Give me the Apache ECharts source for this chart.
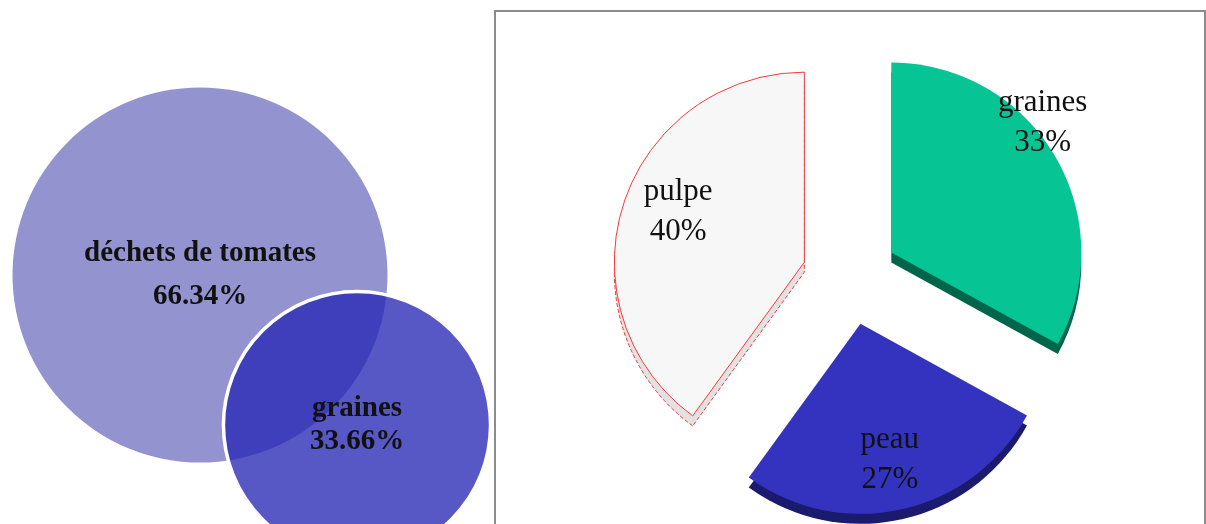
<!DOCTYPE html>
<html>
<head>
  <meta charset="utf-8">
  <title>déchets de tomates</title>
  <style>
    html, body { margin: 0; padding: 0; background: #fff; }
    #main { width: 1206px; height: 524px; }
  </style>
</head>
<body>
<div id="main"></div>
<script src="https://cdn.jsdelivr.net/npm/echarts@6/dist/echarts.min.js"></script>
<script>
var myEcharts = echarts.init(document.getElementById("main"));

// cercles de gauche : part des graines dans les déchets
var vennNames = ["déchets de tomates", "graines"];
var vennValues = [66.34, 33.66];

// camembert de droite : composition des déchets
var partNames = ["graines", "peau", "pulpe"];
var partValues = [33, 27, 40];

var serif = "Liberation Serif";

// rayon proportionnel à la racine de la valeur (aire ~ valeur)
function vennRadius(v) {
  return 187.5 * Math.sqrt(v / vennValues[0]);
}

var topColors = ["#06c494", "#3333c0", "#f7f7f7"];
var sideColors = ["#00654a", "#1b1b6e", "#e2e2e2"];
// réglage des étiquettes : lignes vides (haut, bas) et marge gauche/droite
var labelTune = [
  { before: 0, after: 4, padding: [0, 0, 0, 134] },
  { before: 2, after: 0, padding: [0, 0, 0, 16] },
  { before: 0, after: 1, padding: [0, 66, 0, 0] }
];

function blank(n) {
  var s = "";
  for (var k = 0; k < n; k++) s += "\n";
  return s;
}

function partData(colors, isSide) {
  var res = [];
  for (var i = 0; i < partNames.length; i++) {
    var item = {
      name: partNames[i],
      value: partValues[i],
      selected: true,
      itemStyle: { color: colors[i] },
      select: { itemStyle: { color: colors[i] } }
    };
    if (partNames[i] == "pulpe") {
      item.itemStyle.borderColor = "#f03c3c";
      item.itemStyle.borderWidth = 1;
      if (isSide) item.itemStyle.borderType = "dashed";
      item.select.itemStyle.borderColor = "#f03c3c";
    }
    if (!isSide) {
      var t = labelTune[i];
      item.label = {
        formatter: blank(t.before) + "{b}\n{d}%" + blank(t.after),
        padding: t.padding
      };
    }
    res.push(item);
  }
  return res;
}

myEcharts.setOption({
  animation: false,
  backgroundColor: "#fff",
  graphic: [{
    type: "rect",
    shape: { x: 495, y: 11, width: 710, height: 540 },
    style: { fill: null, stroke: "#8c8c8c", lineWidth: 2 },
    silent: true
  }],
  series: [{
    name: vennNames[0],
    type: "pie",
    center: [200, 275],
    radius: vennRadius(vennValues[0]),
    silent: true,
    label: {
      position: "center",
      formatter: "{b}\n{c}%",
      fontFamily: serif,
      fontWeight: "bold",
      fontSize: 29,
      lineHeight: 43,
      color: "#111",
      padding: [14, 0, 0, 0]
    },
    labelLine: { show: false },
    itemStyle: { color: "#9393d0" },
    data: [{ name: vennNames[0], value: vennValues[0] }]
  }, {
    name: vennNames[1],
    type: "pie",
    center: [357, 425],
    radius: vennRadius(vennValues[1]),
    silent: true,
    label: {
      position: "center",
      formatter: "{b}\n{c}%",
      fontFamily: serif,
      fontWeight: "bold",
      fontSize: 29,
      lineHeight: 33,
      color: "#111",
      padding: [0, 0, 20, 0]
    },
    labelLine: { show: false },
    itemStyle: { color: "rgba(40,40,182,0.78)", borderColor: "#fff", borderWidth: 3.5 },
    data: [{ name: vennNames[1], value: vennValues[1] }]
  }, {
    // épaisseur (effet 3D)
    name: "side",
    type: "pie",
    center: [850, 287],
    radius: 190,
    silent: true,
    selectedMode: "multiple",
    selectedOffset: 48,
    label: { show: false },
    labelLine: { show: false },
    data: partData(sideColors, true)
  }, {
    name: "parts",
    type: "pie",
    center: [850, 277],
    radius: 190,
    silent: true,
    selectedMode: "multiple",
    selectedOffset: 48,
    avoidLabelOverlap: false,
    labelLayout: { hideOverlap: false },
    label: {
      position: "inside",
      fontFamily: serif,
      fontSize: 31,
      lineHeight: 40,
      color: "#111"
    },
    labelLine: { show: false },
    data: partData(topColors, false)
  }]
});
</script>
</body>
</html>
